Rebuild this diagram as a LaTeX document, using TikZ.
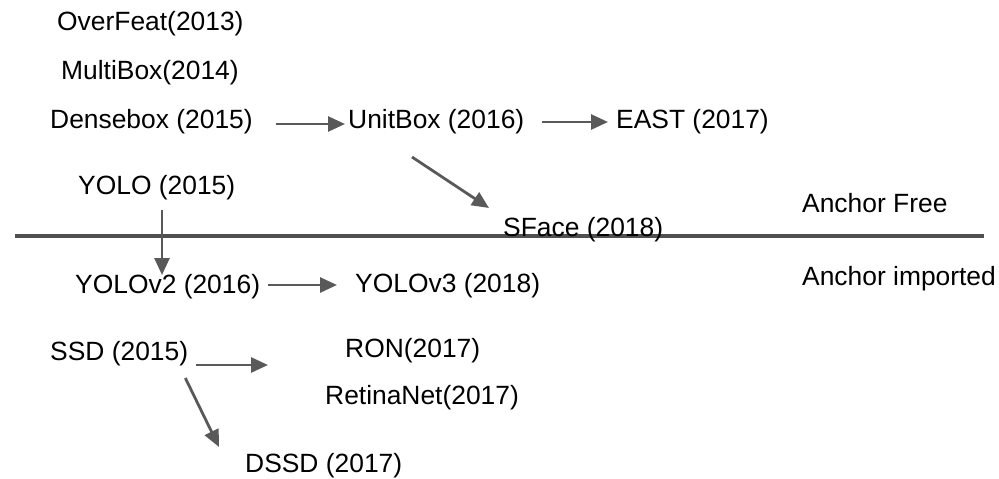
\documentclass[tikz,border=0pt]{standalone}
\usepackage{fontspec}
\setmainfont{Liberation Sans}
\usepackage{tikz}
\usetikzlibrary{calc,arrows.meta}
\tikzset{>={Triangle[length=17pt,width=15pt]}}
\definecolor{mygray}{HTML}{595959}
\definecolor{mydark}{HTML}{505050}

\begin{document}
\begin{tikzpicture}[x=1pt, y=-1pt,
                    line cap=butt,
                    label/.style={anchor=west, inner sep=0pt, font=\fontsize{26.4}{31}\selectfont},
                    arr/.style={mygray, line width=2.8pt, ->},
                    divider/.style={mydark, line width=4pt}]
  \useasboundingbox (0,0) rectangle (999,479);

  % divider between the two families
  \draw[divider] (15,236) -- (984,236);

  % anchor free
  \node[label] (overfeat) at (57,24)  {OverFeat(2013)};
  \node[label] (multibox) at (61,73)  {MultiBox(2014)};
  \node[label] (densebox) at (50,122) {Densebox (2015)};
  \node[label] (unitbox)  at (348,122) {UnitBox (2016)};
  \node[label] (east)     at (616,122) {EAST (2017)};
  \node[label] (yolo)     at (78,188) {YOLO (2015)};
  \node[label] (sface)    at (503,230) {SFace (2018)};
  \node[label] (free)     at (802,203) {Anchor Free};

  % anchor imported
  \node[label] (imported) at (802,279) {Anchor imported};
  \node[label] (yolotwo)  at (75,287) {YOLOv2 (2016)};
  \node[label] (yolothree) at (355,286) {YOLOv3 (2018)};
  \node[label] (ssd)      at (50,354) {SSD (2015)};
  \node[label] (ron)      at (345,351) {RON(2017)};
  \node[label] (retina)   at (325,398) {RetinaNet(2017)};
  \node[label] (dssd)     at (245,466) {DSSD (2017)};
  \coordinate (ssdtip) at (268,365);

  % arrows
  \draw[arr] ($(densebox.east)+(23,2)$) -- ($(unitbox.west)+(-3,2)$);
  \draw[arr] ($(unitbox.east)+(18,0)$) -- ($(east.west)+(-8,0)$);
  \draw[arr] ($(unitbox.west)+(64,35)$) -- ($(sface.west)+(-14,-22)$);
  \draw[arr] ($(yolo.west)+(84,22)$) -- ($(yolotwo.west)+(87,-12)$);
  \draw[arr] ($(yolotwo.east)+(8,-2)$) -- ($(yolothree.west)+(-18,-1)$);
  \draw[arr] ($(ssd.east)+(8,11)$) -- (ssdtip);
  \draw[arr] ($(ssd.east)+(-3,24)$) -- ($(dssd.west)+(-26,-19)$);

\end{tikzpicture}
\end{document}
